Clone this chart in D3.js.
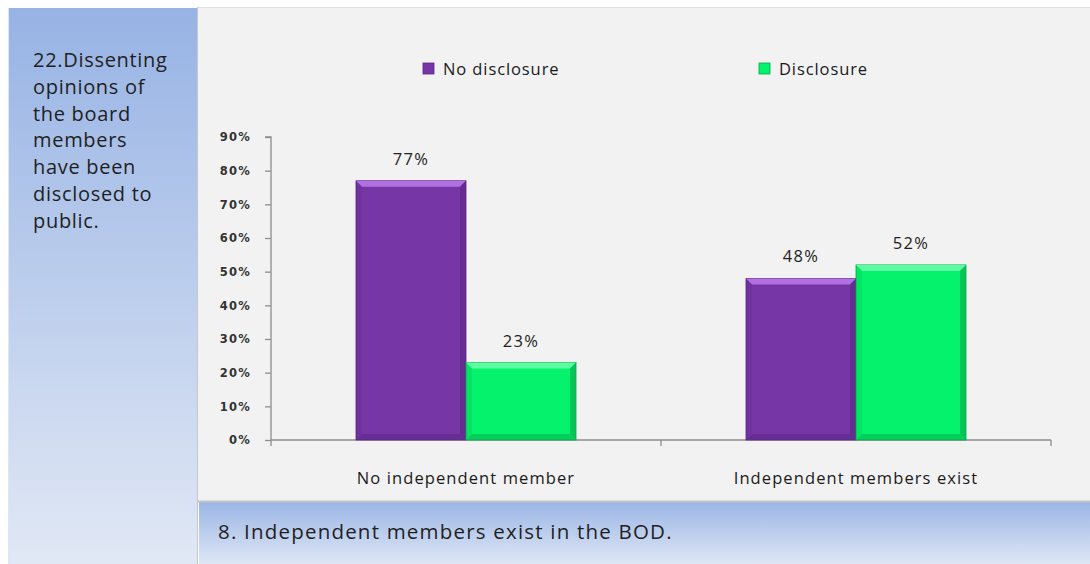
<!DOCTYPE html>
<html>
<head>
<meta charset="utf-8">
<script src="https://cdn.jsdelivr.net/npm/d3@7"></script>
<style>
  body { margin: 0; background: #fff; }
  svg { display: block; font-family: "Open Sans", "Noto Sans", sans-serif; }
</style>
</head>
<body>
<script>
// data
const categories = ['No independent member', 'Independent members exist'];
const seriesNames = ['No disclosure', 'Disclosure'];
const noDisclosure = [77, 48];
const disclosure = [23, 52];
const yTicks = [0, 10, 20, 30, 40, 50, 60, 70, 80, 90];
const sideText = ['22.Dissenting', 'opinions of', 'the board', 'members', 'have been', 'disclosed to', 'public.'];
const bottomText = '8. Independent members exist in the BOD.';

const width = 1090, height = 564;
const plot = {left: 271, right: 1051, top: 137, bottom: 440};

const colors = {
  'No disclosure': {main: '#7636a6', light: '#b070e2', dark: '#5a2484'},
  'Disclosure': {main: '#05f26c', light: '#5dfca3', dark: '#02a84a'}
};

var svg = d3.select('body')
  .append('svg')
  .attr('width', width)
  .attr('height', height);

var defs = svg.append('defs');
var g1 = defs.append('linearGradient').attr('id', 'sideGrad')
  .attr('x1', 0).attr('y1', 0).attr('x2', 0).attr('y2', 1);
g1.append('stop').attr('offset', '0%').attr('stop-color', '#97b3e4');
g1.append('stop').attr('offset', '100%').attr('stop-color', '#e1e8f5');
var g2 = defs.append('linearGradient').attr('id', 'bottomGrad')
  .attr('x1', 0).attr('y1', 0).attr('x2', 0).attr('y2', 1);
g2.append('stop').attr('offset', '0%').attr('stop-color', '#9bb6e5');
g2.append('stop').attr('offset', '100%').attr('stop-color', '#dee6f5');

// panels
svg.append('rect').attr('x', 197).attr('y', 7).attr('width', 893).attr('height', 495)
  .attr('fill', '#f2f2f2');
svg.append('line').attr('x1', 197).attr('x2', 1090).attr('y1', 7.5).attr('y2', 7.5)
  .attr('stroke', '#dde0e6');
svg.append('line').attr('x1', 197.5).attr('x2', 197.5).attr('y1', 7).attr('y2', 564)
  .attr('stroke', '#c4c7cc');

svg.append('rect').attr('x', 8).attr('y', 8).attr('width', 189).attr('height', 556)
  .attr('fill', 'url(#sideGrad)');
svg.append('line').attr('x1', 8.5).attr('x2', 8.5).attr('y1', 8).attr('y2', 564)
  .attr('stroke', '#dfe6f3').attr('stroke-width', 1);

svg.append('rect').attr('x', 199).attr('y', 502).attr('width', 891).attr('height', 62)
  .attr('fill', 'url(#bottomGrad)');
svg.append('line').attr('x1', 198).attr('x2', 1090).attr('y1', 501.5).attr('y2', 501.5)
  .attr('stroke', '#c2c4c8').attr('stroke-width', 2);

svg.append('g').selectAll('text').data(sideText)
  .join('text')
  .attr('x', 33)
  .attr('y', (d, i) => 67 + i * 26.8)
  .attr('font-size', 20)
  .attr('letter-spacing', 0.7)
  .attr('fill', '#1f1f1f')
  .text(d => d);

svg.append('text')
  .attr('x', 218).attr('y', 539)
  .attr('font-size', 20.5)
  .attr('letter-spacing', 1.2)
  .attr('fill', '#1f1f1f')
  .text(bottomText);

// scales
let x0 = d3.scaleBand()
  .domain(categories)
  .range([plot.left, plot.right]);

let x1 = d3.scaleBand()
  .domain(seriesNames)
  .range([x0.bandwidth() / 2 - 110, x0.bandwidth() / 2 + 110]);

let y = d3.scaleLinear()
  .domain([0, 90])
  .range([plot.bottom, plot.top]);

// axes
let yAxis = svg.append('g')
  .attr('transform', `translate(${plot.left},0)`)
  .call(d3.axisLeft(y).tickValues(yTicks).tickSize(6).tickPadding(14).tickFormat(d => d + '%'));
yAxis.selectAll('path, line').attr('stroke', '#8c8c8c').attr('stroke-width', 1.3);
yAxis.selectAll('text').attr('font-size', 11.5).attr('fill', '#333')
  .attr('font-family', 'DejaVu Sans').attr('font-weight', 'bold').attr('letter-spacing', 1.2);
yAxis.select('.domain').attr('d', `M-6,${plot.top}H0V${plot.bottom}`);

let xAxis = svg.append('g')
  .attr('transform', `translate(0,${plot.bottom})`);
xAxis.append('line')
  .attr('x1', plot.left).attr('x2', plot.right)
  .attr('stroke', '#8c8c8c').attr('stroke-width', 1.3);
xAxis.selectAll('.tick').data([plot.left, ...categories.map(c => x0(c) + x0.bandwidth())])
  .join('line')
  .attr('x1', d => d).attr('x2', d => d)
  .attr('y1', 0).attr('y2', 6)
  .attr('stroke', '#8c8c8c').attr('stroke-width', 1.3);
xAxis.selectAll('text').data(categories)
  .join('text')
  .attr('x', d => x0(d) + x0.bandwidth() / 2)
  .attr('y', 44)
  .attr('text-anchor', 'middle')
  .attr('font-size', 16.5)
  .attr('letter-spacing', 1.1)
  .attr('fill', '#1a1a1a')
  .text(d => d);

// bars
let rows = [];
categories.forEach((c, i) => {
  rows.push({cat: c, s: 'No disclosure', v: noDisclosure[i]});
  rows.push({cat: c, s: 'Disclosure', v: disclosure[i]});
});

let bars = svg.append('g').selectAll('g').data(rows)
  .join('g')
  .attr('transform', d => `translate(${x0(d.cat) + x1(d.s)},${y(d.v)})`);

const bev = 6;
bars.append('rect')
  .attr('width', x1.bandwidth())
  .attr('height', d => y(0) - y(d.v))
  .attr('fill', d => colors[d.s].main)
  .attr('stroke', d => colors[d.s].dark)
  .attr('stroke-width', 0.8);
// top bevel
bars.append('path')
  .attr('d', d => `M0,0H${x1.bandwidth()}L${x1.bandwidth() - bev},${bev}H${bev}Z`)
  .attr('fill', d => colors[d.s].light);
// right bevel
bars.append('path')
  .attr('d', d => {
    let w = x1.bandwidth(), h = y(0) - y(d.v);
    return `M${w},0V${h}L${w - bev},${h - bev}V${bev}Z`;
  })
  .attr('fill', d => colors[d.s].dark).attr('opacity', 0.6);
// bottom bevel
bars.append('path')
  .attr('d', d => {
    let w = x1.bandwidth(), h = y(0) - y(d.v);
    return `M0,${h}H${w}L${w - bev},${h - bev}H${bev}Z`;
  })
  .attr('fill', d => colors[d.s].dark).attr('opacity', 0.5);
// left bevel
bars.append('path')
  .attr('d', d => {
    let h = y(0) - y(d.v);
    return `M0,0L${bev},${bev}V${h - bev}L0,${h}Z`;
  })
  .attr('fill', d => colors[d.s].dark).attr('opacity', 0.2);

bars.append('text')
  .attr('x', x1.bandwidth() / 2)
  .attr('y', -16)
  .attr('text-anchor', 'middle')
  .attr('font-size', 16.5)
  .attr('letter-spacing', 1.4)
  .attr('fill', '#222')
  .text(d => d.v + '%');

// legend
let legend = svg.append('g').selectAll('g').data(seriesNames)
  .join('g')
  .attr('transform', (d, i) => `translate(${i === 0 ? 423 : 759},63)`);
legend.append('rect')
  .attr('width', 11).attr('height', 11)
  .attr('fill', d => colors[d].main)
  .attr('stroke', d => colors[d].dark).attr('stroke-width', 0.8);
legend.append('text')
  .attr('x', 20).attr('y', 12)
  .attr('font-size', 16.5)
  .attr('letter-spacing', 0.9)
  .attr('fill', '#1a1a1a')
  .text(d => d);
</script>
</body>
</html>
